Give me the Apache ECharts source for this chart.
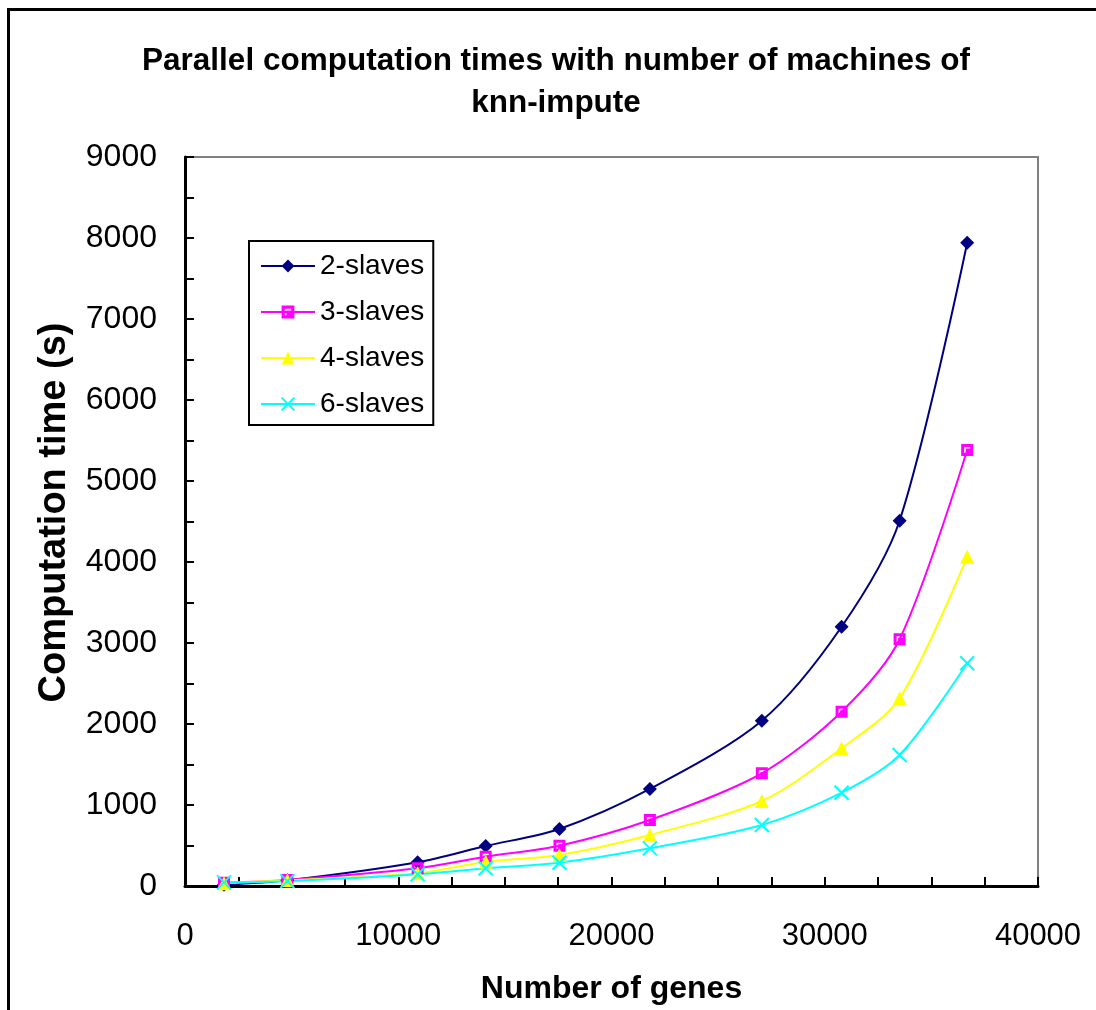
<!DOCTYPE html>
<html>
<head>
<meta charset="utf-8">
<script src="https://cdn.jsdelivr.net/npm/echarts@6/dist/echarts.min.js"></script>
<style>
  html, body { margin: 0; padding: 0; background: #fff; }
  #chart { width: 1096px; height: 1010px; }
</style>
</head>
<body>
<div id="chart"></div>
<script>
// Gene counts on the x axis
const genes = [1830, 4800, 10910, 14100, 17560, 21800, 27050, 30790, 33510, 36680];

// Computation time in seconds per number of slave machines
const slaves2 = [15, 70, 293, 494, 704, 1198, 2041, 3201, 4510, 7942];
const slaves3 = [40, 75, 219, 362, 498, 815, 1391, 2152, 3046, 5383];
const slaves4 = [35, 70, 157, 300, 383, 630, 1049, 1700, 2317, 4066];
const slaves6 = [45, 60, 144, 219, 288, 465, 753, 1152, 1617, 2750];

const seriesNames = ['2-slaves', '3-slaves', '4-slaves', '6-slaves'];

const FONT = '"Liberation Sans", Arial, Helvetica, sans-serif';

function pairs(vals) {
  return genes.map((g, i) => [g, vals[i]]);
}

// square marker with a white corner bevel (inner hole drawn with opposite winding)
const squareSym = 'path://M0,0H12V12H0Z M3,3V9H4.6V4.6H9V3Z';
const crossSym = 'path://M0,0L12,12M12,0L0,12';

const chart = echarts.init(document.getElementById('chart'), null, { renderer: 'canvas' });

const option = {
  backgroundColor: '#ffffff',
  animation: false,
  title: {
    text: 'Parallel computation times with number of machines of\nknn-impute',
    left: 551,
    top: 35,
    textAlign: 'center',
    textStyle: {
      fontFamily: FONT,
      fontWeight: 'bold',
      fontSize: 31.5,
      lineHeight: 42,
      color: '#000'
    }
  },
  legend: {
    orient: 'vertical',
    left: 249,
    top: 241,
    padding: [10, 9, 6, 11],
    itemGap: 16,
    itemWidth: 54,
    itemHeight: 16,
    borderColor: '#000',
    borderWidth: 2,
    backgroundColor: '#fff',
    textStyle: {
      fontFamily: FONT,
      fontSize: 28,
      lineHeight: 30,
      color: '#000'
    },
    data: seriesNames
  },
  grid: {
    left: 185,
    right: 58,
    top: 157,
    bottom: 124,
    show: true,
    borderColor: '#808080',
    borderWidth: 2,
    backgroundColor: '#fff'
  },
  xAxis: {
    type: 'value',
    min: 0,
    max: 40000,
    interval: 2500,
    name: 'Number of genes',
    nameLocation: 'middle',
    nameGap: 87,
    nameTextStyle: {
      fontFamily: FONT,
      fontWeight: 'bold',
      fontSize: 32,
      color: '#000'
    },
    axisLine: { lineStyle: { color: '#000', width: 3 } },
    axisTick: { inside: true, length: 9, lineStyle: { color: '#000', width: 2 } },
    splitLine: { show: false },
    axisLabel: {
      margin: 35,
      fontFamily: FONT,
      fontSize: 31,
      color: '#000',
      formatter: v => (v % 10000 === 0 ? String(v) : '')
    }
  },
  yAxis: {
    type: 'value',
    min: 0,
    max: 9000,
    interval: 500,
    name: 'Computation time (s)',
    nameLocation: 'middle',
    nameGap: 111,
    nameRotate: 90,
    nameTextStyle: {
      fontFamily: FONT,
      fontWeight: 'bold',
      fontSize: 38,
      color: '#000',
      padding: [0, 0, 0, 18]
    },
    axisLine: { lineStyle: { color: '#000', width: 3 } },
    axisTick: { inside: true, length: 9, lineStyle: { color: '#000', width: 2 } },
    splitLine: { show: false },
    axisLabel: {
      margin: 28,
      fontFamily: FONT,
      fontSize: 32,
      color: '#000',
      formatter: v => (v % 1000 === 0 ? String(v) : '')
    }
  },
  graphic: [
    {
      type: 'polyline',
      shape: { points: [[8.5, 1010], [8.5, 9.5], [1096, 9.5]] },
      style: { stroke: '#000', lineWidth: 3, fill: null },
      silent: true
    }
  ],
  series: [
    {
      name: seriesNames[0],
      type: 'line',
      smooth: 0.3,
      data: pairs(slaves2),
      symbol: 'diamond',
      symbolSize: 14,
      lineStyle: { color: '#000080', width: 2 },
      itemStyle: { color: '#000080' }
    },
    {
      name: seriesNames[1],
      type: 'line',
      smooth: 0.3,
      data: pairs(slaves3),
      symbol: squareSym,
      symbolSize: 12,
      lineStyle: { color: '#FF00FF', width: 2 },
      itemStyle: { color: '#FF00FF' }
    },
    {
      name: seriesNames[2],
      type: 'line',
      smooth: 0.3,
      data: pairs(slaves4),
      symbol: 'triangle',
      symbolSize: 14,
      lineStyle: { color: '#FFFF00', width: 2 },
      itemStyle: { color: '#FFFF00' }
    },
    {
      name: seriesNames[3],
      type: 'line',
      smooth: 0.3,
      data: pairs(slaves6),
      symbol: crossSym,
      symbolSize: 14,
      lineStyle: { color: '#00FFFF', width: 2 },
      itemStyle: { color: 'rgba(0,0,0,0)', borderColor: '#00FFFF', borderWidth: 2 }
    }
  ]
};

chart.setOption(option);
</script>
</body>
</html>
